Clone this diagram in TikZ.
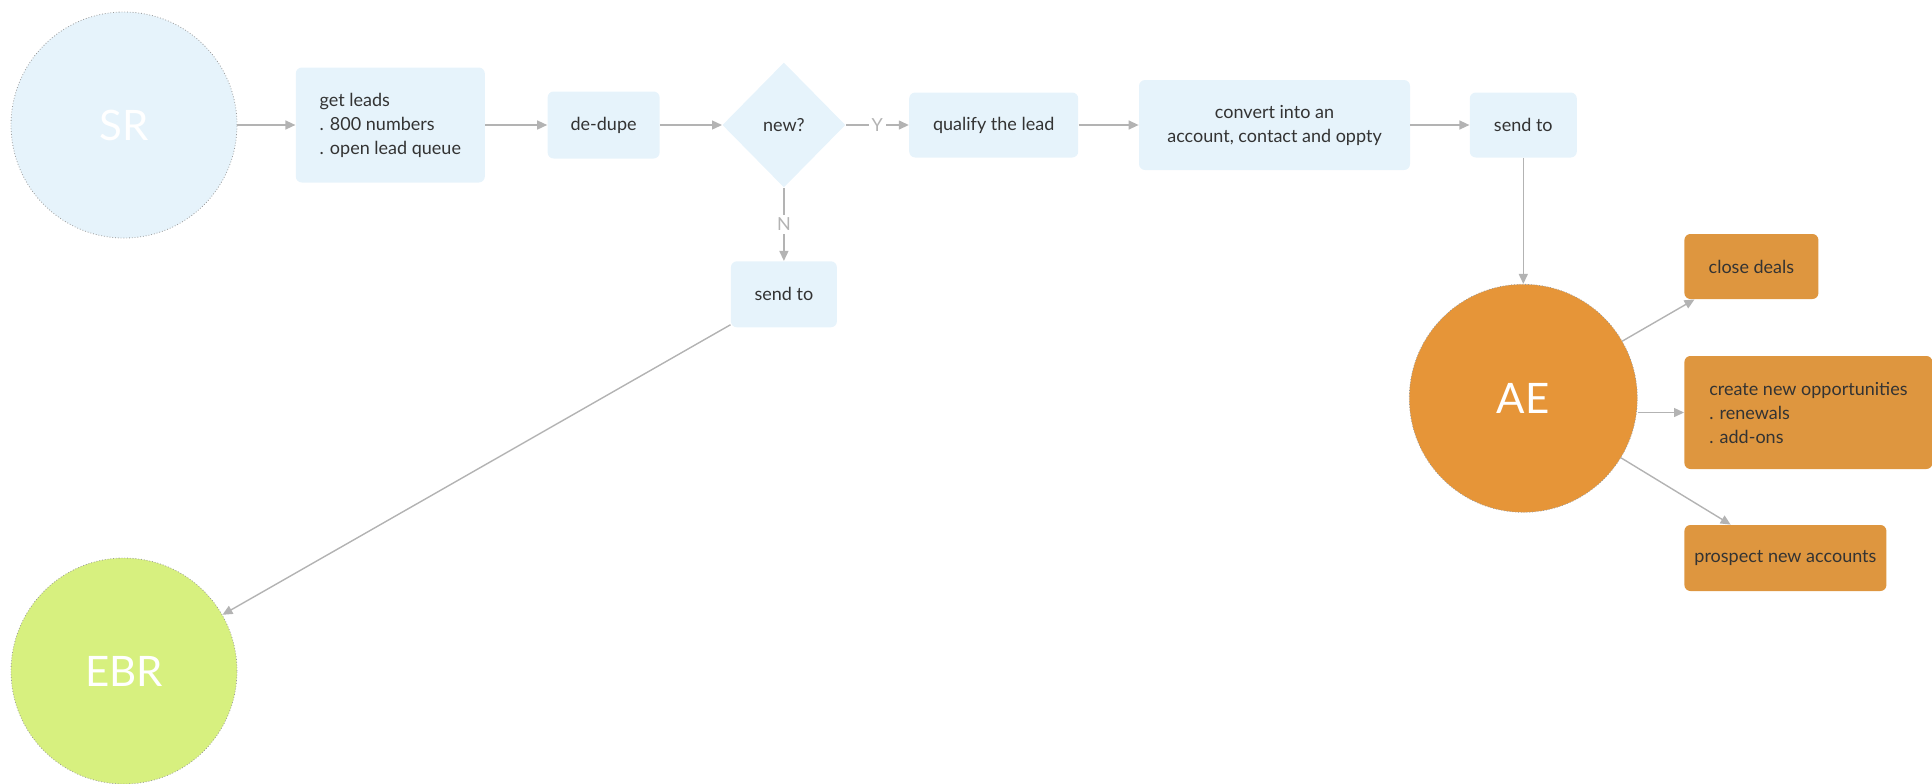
\documentclass[tikz,border=0pt]{standalone}
\usepackage{fontspec}
\setmainfont{Lato}
\usepackage{xcolor}
\definecolor{leadblue}{HTML}{E6F3FB}
\definecolor{leadtext}{HTML}{333333}
\definecolor{leadgray}{HTML}{B3B3B3}
\definecolor{leaddot}{HTML}{9A9A9A}
\definecolor{aeorange}{HTML}{E69538}
\definecolor{taskorange}{HTML}{DE963F}
\definecolor{ebrgreen}{HTML}{D7F07F}
\usepackage{tikz}
\usetikzlibrary{shapes.geometric, arrows.meta, positioning}

\begin{document}
\begin{tikzpicture}[x=0.5pt, y=-0.5pt,
  leadstep/.style={rectangle, rounded corners=3pt, fill=leadblue, text=leadtext,
    inner sep=0pt, align=center, font=\fontsize{9}{12}\selectfont},
  aetask/.style={leadstep, fill=taskorange, anchor=west},
  decision/.style={diamond, aspect=1, fill=leadblue, text=leadtext, inner sep=0pt,
    minimum width=61.5pt, minimum height=62.5pt, font=\fontsize{9}{12}\selectfont},
  role/.style={circle, minimum size=113pt, inner sep=0pt, draw=leaddot, densely dotted,
    line width=0.4pt, text=white, font=\fontsize{21}{24}\selectfont},
  arrow/.style={-{Triangle[length=5pt, width=4.5pt]}, line width=0.7pt, color=leadgray},
  answer/.style={fill=white, inner sep=1.5pt, text=leadgray, font=\fontsize{9}{12}\selectfont}
]
\useasboundingbox (0,0) rectangle (1932,783);

% main lead flow
\node[role, fill=leadblue] (sr) at (124,125) {SR};
\node[leadstep, align=left, minimum width=94.5pt, minimum height=57.5pt, right=29pt of sr] (getleads)
  {get leads\\. 800 numbers\\. open lead queue};
\node[leadstep, minimum width=56pt, minimum height=33.5pt, right=31pt of getleads] (dedupe) {de-dupe};
\node[decision, right=31pt of dedupe] (isnew) {new?};
\node[leadstep, minimum width=84.5pt, minimum height=32.5pt, right=31.5pt of isnew] (qualify) {qualify the lead};
\node[leadstep, minimum width=135.5pt, minimum height=45pt, right=30pt of qualify] (convert)
  {convert into an\\account, contact and oppty};
\node[leadstep, minimum width=53.5pt, minimum height=32.5pt, right=29.5pt of convert] (sendae) {send to};
\node[leadstep, minimum width=53pt, minimum height=33pt, below=36.5pt of isnew] (sendebr) {send to};

% receiving roles
\node[role, fill=aeorange, minimum size=114pt, below=63pt of sendae] (ae) {AE};
\node[role, fill=ebrgreen] (ebr) at (124,671) {EBR};

% AE tasks
\node[aetask, minimum width=67pt, minimum height=32.5pt] (close) at (1684,266.5) {close deals};
\node[aetask, align=left, minimum width=124pt, minimum height=56.5pt] (create) at (1684,412.5)
  {create new opportunities\\. renewals\\. add-ons};
\node[aetask, minimum width=101pt, minimum height=33pt] (prospect) at (1684,558) {prospect new accounts};

\draw[arrow] (sr) -- (getleads);
\draw[arrow] (getleads) -- (dedupe);
\draw[arrow] (dedupe) -- (isnew);
\draw[arrow] (isnew) -- node[answer] {Y} (qualify);
\draw[arrow] (qualify) -- (convert);
\draw[arrow] (convert) -- (sendae);
\draw[arrow] (sendae) -- (ae);
\draw[arrow] (isnew) -- node[answer] {N} (sendebr);
\draw[arrow] (sendebr) -- (ebr);
\draw[arrow] (ae) -- (close);
\draw[arrow] (ae.east |- create.west) -- (create.west);
\draw[arrow] (ae) -- (prospect);
\end{tikzpicture}
\end{document}
